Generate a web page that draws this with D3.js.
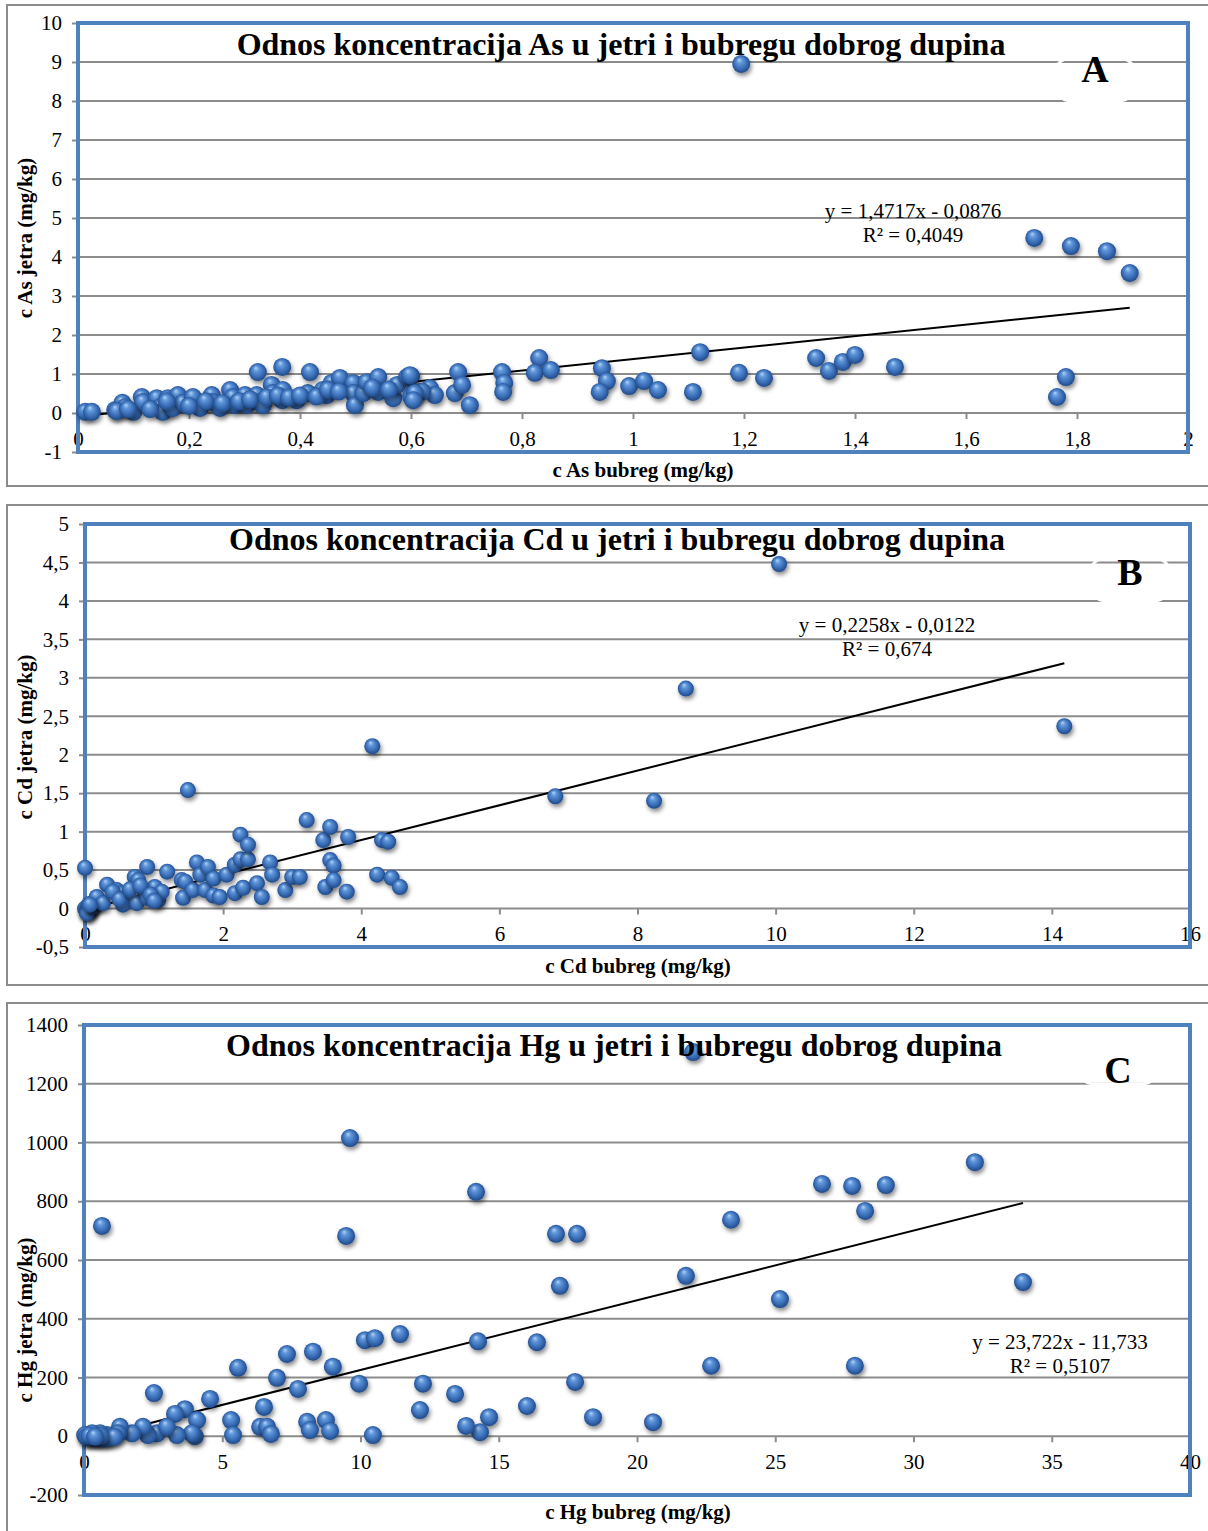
<!DOCTYPE html>
<html>
<meta charset="utf-8">
<style>
body{
	margin:0;
	background:#fff;
}
svg text{
	font-family:"Liberation Serif","Times New Roman",serif;
	fill:#000;
}
.axis text{ font-size:21px; }
.axis line{ stroke:#8c8c8c; stroke-width:2; }
.axis-title{ font-size:21px; font-weight:bold; text-anchor:middle; }
.chart-title{ font-size:32px; font-weight:bold; text-anchor:middle; }
.letter{ font-size:38px; font-weight:bold; text-anchor:middle; }
.eq{ font-size:21px; text-anchor:middle; }
.grid{ stroke:#8c8c8c; stroke-width:2; }
.frame{ fill:none; stroke:#8c8c8c; stroke-width:2; }
.plot-border{ fill:none; stroke:#4f81bd; stroke-width:4; }
.trend{ fill:none; stroke:#000; stroke-width:2; }
</style>
<body>
<svg width="1208" height="1531"></svg>
<script src="https://d3js.org/d3.v7.min.js"></script>
<script>

// ---- As (panel A) ----
var asBubreg = [0.013,0.025,0.067,0.08,0.085,0.1,0.115,0.117,0.142,0.148,0.153,0.162,0.166,0.171,0.18,0.189,0.207,0.22,0.241,0.243,0.256,0.274,0.279,0.283,0.301,0.304,0.322,0.324,0.328,0.333,0.349,0.351,0.368,0.369,0.368,0.394,0.414,0.418,0.441,0.448,0.457,0.472,0.496,0.496,0.499,0.514,0.52,0.541,0.541,0.568,0.575,0.593,0.604,0.634,0.643,0.679,0.685,0.692,0.706,
  0.07,0.09,0.13,0.16,0.2,0.23,0.26,0.29,0.31,0.34,0.36,0.38,0.40,0.43,0.45,0.47,0.53,0.56,0.6,0.6,0.62,
  1.195,1.723,1.789,1.854,1.895,1.121,1.33,1.353,1.378,1.40,1.472,1.78,1.764,1.191,1.236,1.108,0.944,0.953,0.94,0.993,1.02,1.045,0.831,0.823,0.852,0.764,0.768,0.766,0.598,0.607,0.604];
var asJetra = [0.03,0.03,0.08,0.26,0.15,0.03,0.41,0.28,0.38,0.15,0.03,0.38,0.2,0.13,0.46,0.26,0.41,0.13,0.46,0.28,0.13,0.59,0.41,0.2,0.46,0.2,0.46,1.05,0.28,0.2,0.72,0.51,1.18,0.59,0.33,0.33,0.51,1.05,0.59,0.46,0.77,0.9,0.77,0.51,0.2,0.51,0.79,0.92,0.54,0.38,0.72,0.92,0.51,0.64,0.46,0.51,1.05,0.72,0.2,
  0.05,0.1,0.1,0.3,0.18,0.3,0.25,0.3,0.35,0.4,0.45,0.4,0.45,0.42,0.6,0.55,0.65,0.6,0.95,0.42,0.55,
  8.95,4.49,4.28,4.15,3.59,1.56,1.41,1.08,1.31,1.49,1.18,0.92,0.41,1.03,0.9,0.54,1.15,0.82,0.54,0.69,0.82,0.59,1.41,1.03,1.1,1.05,0.77,0.54,0.97,0.51,0.33];
var asXTicks = [0,0.2,0.4,0.6,0.8,1,1.2,1.4,1.6,1.8,2];
var asYTicks = [-1,0,1,2,3,4,5,6,7,8,9,10];
var asTrend = [1.4717, -0.0876];

// ---- Cd (panel B) ----
var cdBubreg = [0,0.02,0.04,0.05,0.08,0.1,0.03,0.12,0.15,0.2,0.06,
  10.05,8.70,14.18,6.81,8.24,4.16,1.49,
  0,0.9,1.19,0.72,0.77,0.32,0.46,0.54,0.61,0.55,0.75,0.87,0.9,1.01,1.06,1.11,0.17,0.26,0.07,1.40,1.45,1.42,1.56,1.62,1.67,1.78,1.74,1.86,1.86,1.95,2.05,2.17,2.25,2.36,2.25,2.36,2.17,2.29,2.49,2.56,2.68,2.71,2.9,3.0,3.11,3.21,3.45,3.48,3.55,3.55,3.6,3.6,3.79,3.81,4.23,4.3,4.39,4.44,4.56,
  0.4,0.5,0.65,0.8,0.95,1.0];
var cdJetra = [0,-0.03,0.01,-0.05,0.02,0.05,-0.06,0.03,0.08,0.1,0.06,
  4.48,2.86,2.37,1.46,1.40,2.11,1.54,
  0.53,0.54,0.48,0.41,0.37,0.31,0.24,0.2,0.15,0.05,0.07,0.2,0.14,0.28,0.11,0.22,0.15,0.07,0.05,0.37,0.35,0.14,0.24,0.6,0.44,0.54,0.24,0.39,0.17,0.15,0.44,0.57,0.64,0.64,0.96,0.83,0.2,0.27,0.33,0.15,0.6,0.44,0.24,0.41,0.41,1.15,0.89,0.28,1.06,0.63,0.56,0.37,0.22,0.93,0.44,0.89,0.87,0.4,0.28,
  0.22,0.12,0.25,0.3,0.18,0.1];
var cdXTicks = [0,2,4,6,8,10,12,14,16];
var cdYTicks = [-0.5,0,0.5,1,1.5,2,2.5,3,3.5,4,4.5,5];
var cdTrend = [0.2258, -0.0122];

// ---- Hg (panel C) ----
var hgBubreg = [22.03,9.62,0.65,9.48,14.18,17.07,17.83,17.21,21.77,23.4,25.17,26.69,27.78,28.25,29.0,32.22,33.96,22.68,27.88,16.38,14.25,17.76,16.02,14.65,18.41,20.58,14.32,13.82,
  10.16,10.52,11.43,7.34,8.28,9.0,5.57,6.98,7.74,9.95,12.26,13.42,2.53,4.56,6.51,12.15,3.65,3.29,4.09,5.32,8.07,8.75,6.37,6.62,8.17,8.9,6.76,10.45,5.39,4.01,3.9,3.36,2.64,2.31,3.0,2.13,1.74,1.3,1.23,0.83,0.58,0.29,0.04,
  0.1,0.3,0.5,0.7,0.9,1.1,0.2,0.6,0.4];
var hgJetra = [1308,1015,716,682,832,689,689,512,546,737,467,859,852,767,855,933,525,240,240,320,323,185,103,65,65,48,14,35,
  327,334,348,280,288,237,233,199,161,179,179,144,147,127,100,89,92,76,55,55,49,55,32,32,21,18,8,4,4,0,10,4,10,4,32,32,10,32,10,4,10,10,4,
  -3,-6,-4,-8,-5,-2,2,1,-1];
var hgXTicks = [0,5,10,15,20,25,30,35,40];
var hgYTicks = [-200,0,200,400,600,800,1000,1200,1400];
var hgTrend = [23.722, -11.733];

var svg = d3.select("svg");

var locale = d3.formatLocale({decimal: ",", thousands: "", grouping: [3], currency: ["", ""], minus: "-"});
var fmt = locale.format("~g");

var defs = svg.append("defs");
var grad = defs.append("radialGradient").attr("id", "ball")
    .attr("cx", "50%").attr("cy", "50%").attr("r", "55%")
    .attr("fx", "38%").attr("fy", "26%");
grad.append("stop").attr("offset", "0%").attr("stop-color", "#b3d3f5");
grad.append("stop").attr("offset", "28%").attr("stop-color", "#5f96da");
grad.append("stop").attr("offset", "68%").attr("stop-color", "#3669b2");
grad.append("stop").attr("offset", "100%").attr("stop-color", "#1b427c");
defs.append("filter").attr("id", "shadow")
    .attr("x", "-50%").attr("y", "-50%").attr("width", "200%").attr("height", "200%")
  .append("feDropShadow")
    .attr("dx", 1.5).attr("dy", 3).attr("stdDeviation", 2)
    .attr("flood-color", "#000").attr("flood-opacity", 0.45);

var panels = [
  {frame: [7, 5, 1210, 481], left: 78, right: 1188, top: 23, bottom: 452,
   xs: asBubreg, ys: asJetra, xTicks: asXTicks, yTicks: asYTicks, trend: asTrend, r: 9,
   title: "Odnos koncentracija As u jetri i bubregu dobrog dupina", titlePos: [621, 55],
   letter: "A", letterPos: [1095, 82], boxBottom: 101,
   eq: ["y = 1,4717x - 0,0876", "R² = 0,4049"], eqPos: [913, 218],
   xTitle: "c As bubreg (mg/kg)", xTitlePos: [643, 477],
   yTitle: "c As jetra (mg/kg)", yTitlePos: [32, 238]},
  {frame: [7, 505, 1210, 480], left: 85, right: 1190, top: 524, bottom: 947,
   xs: cdBubreg, ys: cdJetra, xTicks: cdXTicks, yTicks: cdYTicks, trend: cdTrend, r: 8,
   title: "Odnos koncentracija Cd u jetri i bubregu dobrog dupina", titlePos: [617, 550],
   letter: "B", letterPos: [1130, 585], boxBottom: 601,
   eq: ["y = 0,2258x - 0,0122", "R² = 0,674"], eqPos: [887, 632],
   xTitle: "c Cd bubreg (mg/kg)", xTitlePos: [638, 973],
   yTitle: "c Cd jetra (mg/kg)", yTitlePos: [32, 737]},
  {frame: [7, 1003, 1210, 560], left: 84, right: 1190, top: 1025, bottom: 1495,
   xs: hgBubreg, ys: hgJetra, xTicks: hgXTicks, yTicks: hgYTicks, trend: hgTrend, r: 9,
   title: "Odnos koncentracija Hg u jetri i bubregu dobrog dupina", titlePos: [614, 1056],
   letter: "C", letterPos: [1118, 1083], boxBottom: 1084,
   eq: ["y = 23,722x - 11,733", "R² = 0,5107"], eqPos: [1060, 1349],
   xTitle: "c Hg bubreg (mg/kg)", xTitlePos: [638, 1519],
   yTitle: "c Hg jetra (mg/kg)", yTitlePos: [32, 1320]}
];

panels.forEach(drawPanel);

function drawPanel(p) {
  var g = svg.append("g");
  var x = d3.scaleLinear().domain([p.xTicks[0], p.xTicks[p.xTicks.length - 1]]).range([p.left, p.right]);
  var y = d3.scaleLinear().domain([p.yTicks[0], p.yTicks[p.yTicks.length - 1]]).range([p.bottom, p.top]);

  g.append("rect").attr("class", "frame")
      .attr("x", p.frame[0]).attr("y", p.frame[1])
      .attr("width", p.frame[2]).attr("height", p.frame[3]);

  g.selectAll(".grid").data(p.yTicks).enter().append("line")
      .attr("class", "grid")
      .attr("x1", p.left).attr("x2", p.right)
      .attr("y1", function(d) { return y(d); })
      .attr("y2", function(d) { return y(d); });

  // white rounded outline of the letter box, it cuts the gridlines
  g.append("rect")
      .attr("x", p.letterPos[0] - 41).attr("y", p.boxBottom - 43)
      .attr("width", 82).attr("height", 43).attr("rx", 17)
      .attr("fill", "none").attr("stroke", "#fff").attr("stroke-width", 3);

  var yAxis = g.append("g").attr("class", "axis")
      .attr("transform", "translate(" + p.left + ",0)")
      .call(d3.axisLeft(y).tickValues(p.yTicks).tickSize(6).tickPadding(10).tickFormat(fmt));
  yAxis.select(".domain").remove();

  var xAxis = g.append("g").attr("class", "axis")
      .attr("transform", "translate(0," + y(0) + ")")
      .call(d3.axisBottom(x).tickValues(p.xTicks).tickSize(6).tickPadding(12).tickFormat(fmt));
  xAxis.select(".domain").remove();

  g.append("rect").attr("class", "plot-border")
      .attr("x", p.left).attr("y", p.top)
      .attr("width", p.right - p.left).attr("height", p.bottom - p.top);

  var pts = p.xs.map(function(v, i) { return [v, p.ys[i]]; });
  var xmin = d3.min(p.xs), xmax = d3.max(p.xs);
  g.append("line").attr("class", "trend")
      .attr("x1", x(xmin)).attr("y1", y(p.trend[0] * xmin + p.trend[1]))
      .attr("x2", x(xmax)).attr("y2", y(p.trend[0] * xmax + p.trend[1]));

  g.append("g").selectAll("circle").data(pts).enter().append("circle")
      .attr("cx", function(d) { return x(d[0]); })
      .attr("cy", function(d) { return y(d[1]); })
      .attr("r", p.r)
      .attr("fill", "url(#ball)")
      .attr("filter", "url(#shadow)");

  g.append("text").attr("class", "chart-title")
      .attr("x", p.titlePos[0]).attr("y", p.titlePos[1]).text(p.title);
  g.append("text").attr("class", "letter")
      .attr("x", p.letterPos[0]).attr("y", p.letterPos[1]).text(p.letter);
  g.append("text").attr("class", "eq")
      .attr("x", p.eqPos[0]).attr("y", p.eqPos[1]).text(p.eq[0]);
  g.append("text").attr("class", "eq")
      .attr("x", p.eqPos[0]).attr("y", p.eqPos[1] + 24).text(p.eq[1]);
  g.append("text").attr("class", "axis-title")
      .attr("x", p.xTitlePos[0]).attr("y", p.xTitlePos[1]).text(p.xTitle);
  g.append("text").attr("class", "axis-title")
      .attr("transform", "translate(" + p.yTitlePos[0] + "," + p.yTitlePos[1] + ") rotate(-90)")
      .text(p.yTitle);
}

</script>
</body>
</html>
